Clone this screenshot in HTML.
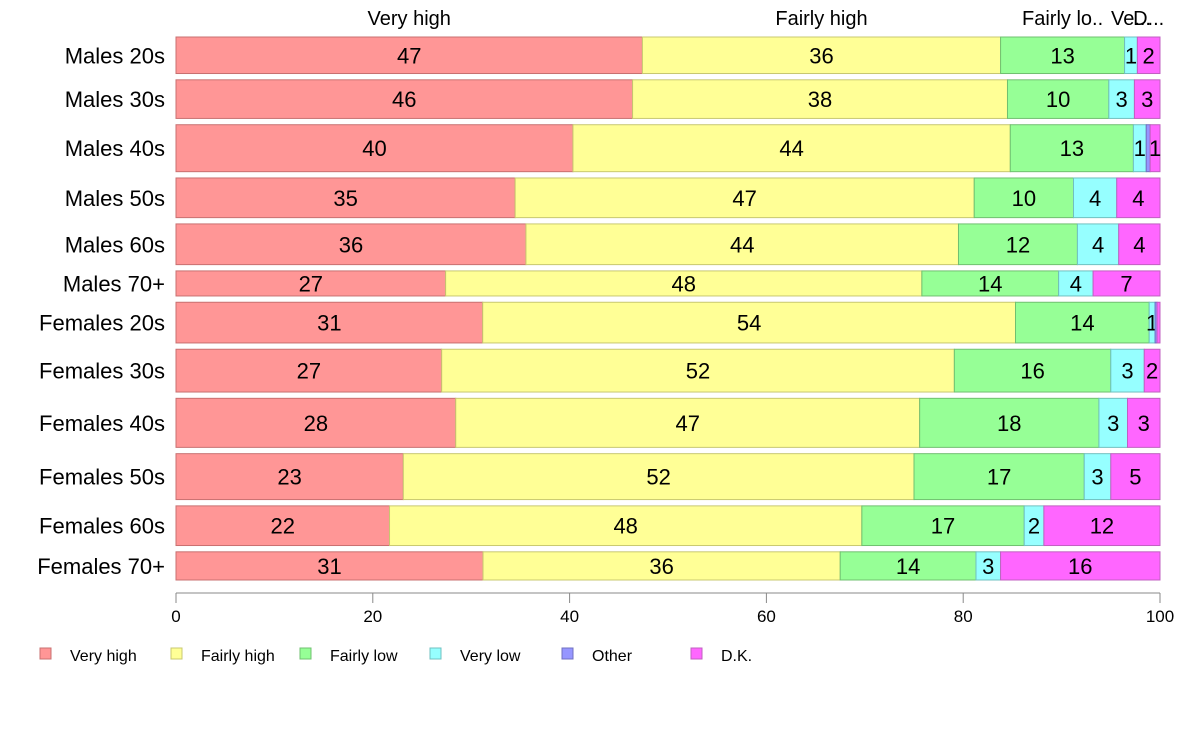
<!DOCTYPE html>
<html><head><meta charset="utf-8"><style>
body{margin:0;background:#fff;font-family:"Liberation Sans",sans-serif;}
svg text{font-family:"Liberation Sans",sans-serif;}
</style></head><body>
<svg id="chart" width="1188" height="736" viewBox="0 0 1188 736"></svg>
<script>
const categories=["Males 20s","Males 30s","Males 40s","Males 50s","Males 60s","Males 70+","Females 20s","Females 30s","Females 40s","Females 50s","Females 60s","Females 70+"];
const weights=[35,37,45,38,39,24,39,41,47,44,38,27];
const series=["Very high","Fairly high","Fairly low","Very low","Other","D.K."];
const veryHigh=[47.4,46.4,40.3,34.5,35.6,27.4,31.2,27.0,28.4,23.1,21.7,31.2];
const fairlyHigh=[36.4,38.1,44.4,46.7,44.0,48.4,54.2,52.1,47.1,51.9,48.0,36.3];
const fairlyLow=[12.6,10.3,12.5,10.1,12.1,13.9,13.6,15.9,18.2,17.3,16.5,13.8];
const veryLow=[1.3,2.6,1.3,4.4,4.2,3.5,0.6,3.4,2.9,2.7,2.0,2.5];
const other=[0,0,0.4,0,0,0,0.2,0,0,0,0,0];
const dk=[2.3,2.6,1.0,4.4,4.2,6.8,0.3,1.6,3.3,5.0,11.8,16.2];
const xTicks=[0,20,40,60,80,100];
const headerLabels=["Very high","Fairly high","Fairly lo..","Ve...","O...","D..."];
const fills=["#ff9696","#ffff96","#96ff96","#96ffff","#9696ff","#ff66ff"];
const strokes=["#c87070","#c8c870","#70c070","#70c0c0","#7070c0","#c060c0"];
const data=[veryHigh,fairlyHigh,fairlyLow,veryLow,other,dk];
const NS="http://www.w3.org/2000/svg";
const svg=document.getElementById("chart");
const X0=176,X1=1160,Y0=37,Y1=580;
const x=v=>X0+(X1-X0)*v/100;
const totalW=weights.reduce((a,b)=>a+b,0);
const gap=6.3;
const hs=(Y1-Y0-gap*(categories.length-1))/totalW;
function mk(tag,attrs,txt){const e=document.createElementNS(NS,tag);for(const k in attrs)e.setAttribute(k,attrs[k]);if(txt!==undefined)e.textContent=txt;svg.appendChild(e);return e;}
let y=Y0;
categories.forEach((c,i)=>{
  const h=weights[i]*hs;
  const t=mk("text",{x:165,y:y+h/2+8,"text-anchor":"end","font-size":22,fill:"#000"},c);
  
  
  const tot=data.reduce((s,a)=>s+a[i],0);
  let cum=0;
  data.forEach((arr,j)=>{
    const v=arr[i]*100/tot;
    if(v<=0)return;
    const r=mk("rect",{x:x(cum),y:y,width:x(cum+v)-x(cum),height:h,fill:fills[j],stroke:strokes[j],"stroke-width":1});
    
    
    const lbl=Math.round(arr[i]);
    if(lbl>=1){
      const lt=mk("text",{x:(x(cum)+x(cum+v))/2,y:y+h/2+8,"text-anchor":"middle","font-size":22,fill:"#000"},String(lbl));
      
      
    }
    if(i===0){
      const ht=mk("text",{x:(x(cum)+x(cum+v))/2,y:25,"text-anchor":"middle","font-size":20,fill:"#000"},headerLabels[j]);
      
      
    }
    cum+=v;
  });
  y+=h+gap;
});
const ax=mk("line",{x1:X0,y1:593,x2:X1,y2:593,stroke:"#888","stroke-width":1});


xTicks.forEach(t=>{
  const l=mk("line",{x1:x(t),y1:593,x2:x(t),y2:603,stroke:"#888","stroke-width":1});
  
  
  const tt=mk("text",{x:x(t),y:622,"text-anchor":"middle","font-size":17,fill:"#000"},String(t));
  
  
});
const legX=[40,171,300,430,562,691];
series.forEach((s,j)=>{
  const r=mk("rect",{x:legX[j],y:648,width:11,height:11,fill:fills[j],stroke:strokes[j]});
  
  
  const t=mk("text",{x:legX[j]+30,y:661,"font-size":16,fill:"#000"},s);
  
  
});
</script>
</body></html>
